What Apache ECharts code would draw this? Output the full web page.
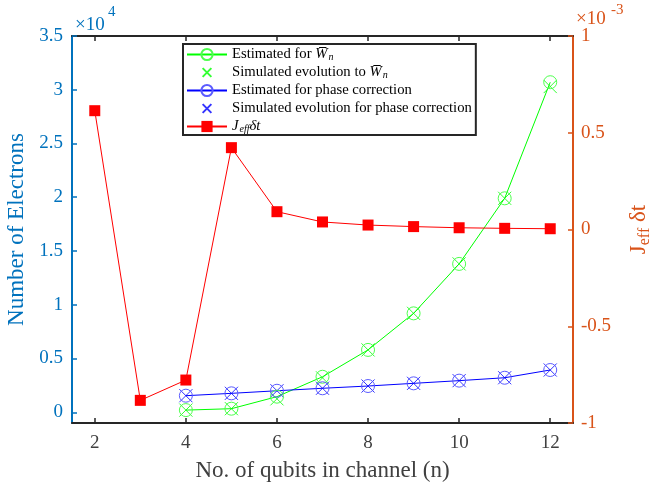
<!DOCTYPE html>
<html><head><meta charset="utf-8">
<script src="https://cdn.jsdelivr.net/npm/echarts@6/dist/echarts.min.js"></script>
<style>html,body{margin:0;padding:0;background:#fff}#c{width:654px;height:487px}</style>
</head><body><div id="c"></div>
<script>
// ---- data ----
const qubitsAll = [2, 3, 4, 5, 6, 7, 8, 9, 10, 11, 12];
const qubitsEst = [4, 5, 6, 7, 8, 9, 10, 11, 12];
const estimatedWn = [200, 330, 1450, 3300, 5800, 9200, 13800, 19900, 30700];
const simulatedWn = [200, 330, 1250, 3200, 5800, 9200, 13800, 19900, 30300];
const estimatedPhase = [1540, 1760, 2000, 2230, 2440, 2690, 2940, 3210, 3930];
const simulatedPhase = [1540, 1760, 2000, 2230, 2440, 2690, 2940, 3210, 3930];
const jeffDt = [0.614, -0.883, -0.778, 0.423, 0.092, 0.039, 0.023, 0.015, 0.009, 0.006, 0.004]; // x 1e-3
const xTicks = [2, 4, 6, 8, 10, 12];
const leftTicks = [0, 5000, 10000, 15000, 20000, 25000, 30000, 35000];
const seriesNames = ['estWn', 'simWn', 'estPh', 'simPh', 'jeff'];
const legendLabels = {
  estWn: 'Estimated for {it|W\u0305}{sub|n}',
  simWn: 'Simulated evolution to {it|W\u0305}{sub|n}',
  estPh: 'Estimated for phase correction',
  simPh: 'Simulated evolution for phase correction',
  jeff: '{it|J}{sub|eff}{it|\u03b4t}'
};

const FONT = "'Liberation Serif','Times New Roman',serif";
const BLUEAX = '#0072BD', ORANGE = '#D95319', DARK = '#262626', GRAYTXT = '#404040';
const GREEN = '#00ff00', BLUE = '#0000ff', RED = '#ff0000';
const GREEN_C = '#4dff4d', BLUE_C = '#5c5cff';
const XPATH = 'path://M-3,-3M0,0L10,10M10,0L0,10M13,13';

const zip = (xs, ys) => xs.map((x, i) => [x, ys[i]]);

const chart = echarts.init(document.getElementById('c'), null, {renderer: 'canvas'});
chart.setOption({
  animation: false,
  backgroundColor: '#fff',
  grid: {left: 72, right: 81, top: 36, bottom: 64, containLabel: false, outerBoundsMode: 'none'},
  xAxis: [{
    type: 'value', min: 1.5, max: 12.5, position: 'bottom',
    axisLine: {show: true, onZero: false, lineStyle: {color: DARK, width: 2}},
    axisTick: {show: true, inside: true, length: 5, customValues: xTicks, lineStyle: {color: DARK, width: 1.5}},
    axisLabel: {customValues: xTicks, margin: 11, color: GRAYTXT, fontFamily: FONT, fontSize: 19},
    splitLine: {show: false},
    name: 'No. of qubits in channel (n)', nameLocation: 'middle', nameGap: 36,
    nameTextStyle: {color: GRAYTXT, fontFamily: FONT, fontSize: 23}
  }, {
    type: 'value', min: 1.5, max: 12.5, position: 'top',
    axisLine: {show: true, onZero: false, lineStyle: {color: DARK, width: 2}},
    axisTick: {show: true, inside: true, length: 5, customValues: xTicks, lineStyle: {color: DARK, width: 1.5}},
    axisLabel: {show: false},
    splitLine: {show: false}
  }],
  yAxis: [{
    type: 'value', min: -1000, max: 35000, position: 'left',
    axisLine: {show: true, onZero: false, lineStyle: {color: BLUEAX, width: 2}},
    axisTick: {show: true, inside: true, length: 5, customValues: leftTicks, lineStyle: {color: BLUEAX, width: 1.5}},
    axisLabel: {customValues: leftTicks, margin: 9, color: BLUEAX, fontFamily: FONT, fontSize: 19,
      formatter: v => String(Math.round(v / 1000) / 10)},
    splitLine: {show: false},
    name: 'Number of Electrons', nameLocation: 'middle', nameGap: 40, nameRotate: 90,
    nameTextStyle: {color: BLUEAX, fontFamily: FONT, fontSize: 23}
  }, {
    type: 'value', min: -1, max: 1, interval: 0.5, position: 'right',
    axisLine: {show: true, onZero: false, lineStyle: {color: ORANGE, width: 2}},
    axisTick: {show: true, inside: true, length: 5, lineStyle: {color: ORANGE, width: 1.5}},
    axisLabel: {margin: 8, color: ORANGE, fontFamily: FONT, fontSize: 19,
      formatter: v => String(Math.round(v * 10) / 10)},
    splitLine: {show: false},
    name: '{j|J}{s|eff}{j| \u03b4t}', nameLocation: 'middle', nameGap: 52, nameRotate: 90,
    nameTextStyle: {color: ORANGE, fontFamily: FONT, fontSize: 23,
      rich: {j: {color: ORANGE, fontFamily: FONT, fontSize: 23},
             s: {color: ORANGE, fontFamily: FONT, fontSize: 16, padding: [12, 0, 0, 0]}}}
  }],
  legend: {
    orient: 'vertical', left: 183, top: 44,
    data: seriesNames,
    itemWidth: 40, itemHeight: 14, itemGap: 2.5,
    padding: [3, 4, 1, 3],
    backgroundColor: '#fff', borderColor: DARK, borderWidth: 2,
    formatter: n => legendLabels[n],
    textStyle: {color: '#000', fontFamily: FONT, fontSize: 14.7, lineHeight: 15,
      rich: {
        it: {fontFamily: FONT, fontSize: 14.7, lineHeight: 15, fontStyle: 'italic', color: '#000'},
        sub: {fontFamily: FONT, fontSize: 10, lineHeight: 10, fontStyle: 'italic', color: '#000', padding: [5, 0, 0, 1]}
      }}
  },
  graphic: [
    {type: 'text', left: 75, top: 16, style: {text: '\u00d710', fill: BLUEAX, font: "19px " + FONT}},
    {type: 'text', left: 108, top: 5, style: {text: '4', fill: BLUEAX, font: "15px " + FONT}},
    {type: 'text', left: 576, top: 10, style: {text: '\u00d710', fill: ORANGE, font: "19px " + FONT}},
    {type: 'text', left: 611, top: 3, style: {text: '-3', fill: ORANGE, font: "15px " + FONT}}
  ],
  series: [{
    name: 'estWn', type: 'line', xAxisIndex: 0, yAxisIndex: 0,
    data: zip(qubitsEst, estimatedWn),
    symbol: 'circle', symbolSize: 13,
    itemStyle: {color: 'rgba(0,0,0,0)', borderColor: GREEN_C, borderWidth: 1},
    lineStyle: {color: GREEN, width: 1}
  }, {
    name: 'simWn', type: 'scatter', xAxisIndex: 0, yAxisIndex: 0,
    data: zip(qubitsEst, simulatedWn),
    symbol: XPATH, symbolSize: 21,
    itemStyle: {color: 'rgba(0,0,0,0)', borderColor: GREEN, borderWidth: 1}
  }, {
    name: 'estPh', type: 'line', xAxisIndex: 0, yAxisIndex: 0,
    data: zip(qubitsEst, estimatedPhase),
    symbol: 'circle', symbolSize: 13,
    itemStyle: {color: 'rgba(0,0,0,0)', borderColor: BLUE_C, borderWidth: 1},
    lineStyle: {color: BLUE, width: 1}
  }, {
    name: 'simPh', type: 'scatter', xAxisIndex: 0, yAxisIndex: 0,
    data: zip(qubitsEst, simulatedPhase),
    symbol: XPATH, symbolSize: 21,
    itemStyle: {color: 'rgba(0,0,0,0)', borderColor: BLUE, borderWidth: 1}
  }, {
    name: 'jeff', type: 'line', xAxisIndex: 0, yAxisIndex: 1,
    data: zip(qubitsAll, jeffDt),
    symbol: 'rect', symbolSize: 11,
    itemStyle: {color: RED},
    lineStyle: {color: RED, width: 1}
  }]
});
</script></body></html>
